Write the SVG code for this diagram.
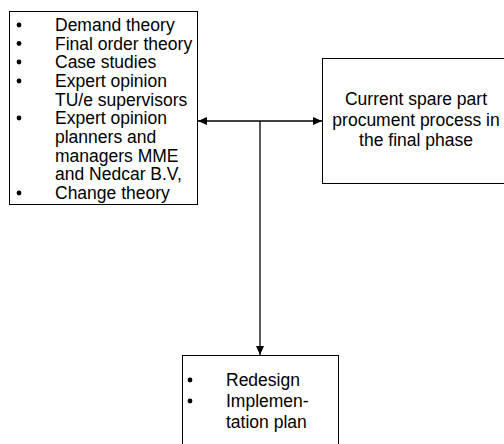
<svg xmlns="http://www.w3.org/2000/svg" width="504" height="444" viewBox="0 0 504 444">
<style>
.box{fill:#fff;stroke:#000;stroke-width:1}
text{font-family:"Liberation Sans",Arial,sans-serif;font-size:17.5px;fill:#000}
.c{text-anchor:middle}
.ln{stroke:#000;stroke-width:1.3;fill:none}
</style>
<defs>
<marker id="ah" markerWidth="10" markerHeight="10" refX="9" refY="5" orient="auto" markerUnits="userSpaceOnUse">
<path d="M0,1 L9,5 L0,9 Z" fill="#000"/>
</marker>
</defs>
<rect width="504" height="444" fill="#fff"/>
<g id="sources">
<rect class="box" x="9.5" y="11.5" width="188" height="193"/>
<circle cx="19" cy="25" r="2.4"/>
<circle cx="19" cy="43.5" r="2.4"/>
<circle cx="19" cy="62" r="2.4"/>
<circle cx="19" cy="81" r="2.4"/>
<circle cx="19" cy="118" r="2.4"/>
<circle cx="19" cy="193" r="2.4"/>
<text x="55" y="31">Demand theory</text>
<text x="55" y="49.5">Final order theory</text>
<text x="55" y="68">Case studies</text>
<text x="55" y="87">Expert opinion</text>
<text x="55" y="105.5">TU/e supervisors</text>
<text x="55" y="124">Expert opinion</text>
<text x="55" y="143">planners and</text>
<text x="55" y="161.5">managers MME</text>
<text x="55" y="180">and Nedcar B.V,</text>
<text x="55" y="199">Change theory</text>
</g>
<g id="current">
<rect class="box" x="322.5" y="58.5" width="190" height="125"/>
<text class="c" x="416" y="105">Current spare part</text>
<text class="c" x="416" y="126">procument process in</text>
<text class="c" x="416" y="146">the final phase</text>
</g>
<g id="redesign">
<rect class="box" x="182.5" y="355.5" width="156" height="100"/>
<circle cx="190" cy="380" r="2.4"/>
<circle cx="190" cy="401" r="2.4"/>
<text x="226" y="386">Redesign</text>
<text x="226" y="407">Implemen-</text>
<text x="226" y="428">tation plan</text>
</g>
<g id="connectors">
<line class="ln" x1="260" y1="121" x2="198" y2="121" marker-end="url(#ah)"/>
<line class="ln" x1="260" y1="121" x2="322" y2="121" marker-end="url(#ah)"/>
<line class="ln" x1="260" y1="121" x2="260" y2="355" marker-end="url(#ah)"/>
</g>
</svg>
